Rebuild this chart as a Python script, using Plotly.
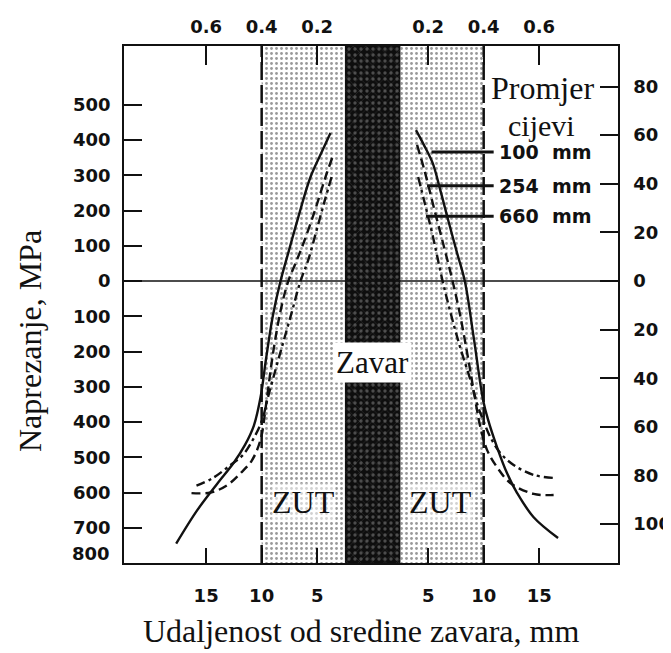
import plotly.graph_objects as go

# ---------------- data ----------------
x_tick_mm = [-15, -10, -5, 5, 10, 15]
x_bottom_labels = ["15", "10", "5", "5", "10", "15"]
x_top_labels = ["0.6", "0.4", "0.2", "0.2", "0.4", "0.6"]

mpa_ticks = [500, 400, 300, 200, 100, 0, -100, -200, -300, -400, -500, -600, -700]
mpa_labels = ["500", "400", "300", "200", "100", "0", "100", "200", "300", "400", "500", "600", "700"]
ksi_ticks = [80, 60, 40, 20, 0, -20, -40, -60, -80, -100]
ksi_labels = ["80", "60", "40", "20", "0", "20", "40", "60", "80", "100"]

weld_half_mm = 2.5
haz_edge_mm = 10

# 100 mm pipe (solid)
left_100_x = [-3.8, -4.6, -5.6, -6.8, -7.6, -8.3, -9.0, -9.6, -10.1, -10.7, -11.5, -12.5, -14.0, -15.8, -17.7]
left_100_y = [420, 365, 295, 170, 80, 0, -100, -220, -330, -410, -465, -515, -575, -650, -745]
right_100_x = [3.9, 4.6, 5.4, 6.1, 6.8, 7.6, 8.3, 9.1, 9.95, 10.4, 11.2, 12.1, 13.0, 14.5, 16.7]
right_100_y = [428, 387, 335, 257, 173, 80, 0, -160, -338, -394, -471, -545, -601, -670, -729]

# 254 mm pipe (dashed)
left_254_x = [-3.65, -4.3, -5.2, -6.2, -6.95, -7.6, -8.3, -9.0, -9.6, -10.1, -10.9, -11.9, -13.1, -14.6, -16.7]
left_254_y = [349, 290, 200, 110, 50, 0, -85, -210, -350, -450, -510, -545, -579, -600, -601]
right_254_x = [4.0, 4.7, 5.5, 6.4, 7.2, 7.9, 8.6, 9.4, 9.7, 10.3, 11.2, 12.4, 14.5, 16.3]
right_254_y = [386, 310, 210, 100, 0, -100, -220, -366, -414, -479, -528, -573, -604, -607]

# 660 mm pipe (dash-dot)
left_660_x = [-3.7, -4.3, -5.0, -5.8, -6.5, -7.3, -8.2, -9.0, -9.5, -9.95, -10.8, -11.7, -12.8, -14.4, -16.0]
left_660_y = [295, 230, 150, 60, 0, -90, -190, -280, -338, -394, -451, -494, -522, -559, -582]
right_660_x = [4.1, 4.7, 5.4, 6.3, 7.1, 7.9, 8.8, 9.5, 9.95, 10.6, 11.5, 12.7, 14.5, 16.4]
right_660_y = [295, 220, 130, 0, -100, -190, -280, -357, -394, -443, -488, -522, -550, -559]

legend_names = ["100  mm", "254  mm", "660  mm"]
legend_y = [366, 270, 184]
legend_x0 = [5.3, 4.9, 4.8]

# ---------------- layout constants ----------------
X_RANGE = [-22.4, 22.1]
Y_RANGE = [-800, 666.7]
MPA_PER_KSI = 6.895
Y2_RANGE = [Y_RANGE[0] / MPA_PER_KSI, Y_RANGE[1] / MPA_PER_KSI]
INK = "#111111"
SERIF = "Liberation Serif"
SANS = "DejaVu Sans"

# plot area in page pixels (page body has an 8px margin)
PA_L, PA_R, PA_T, PA_B = 124, 618, 46, 563
PA_W, PA_H = PA_R - PA_L, PA_B - PA_T

def px(xp):
    return (xp - PA_L) / PA_W

def py(yp):
    return (PA_B - yp) / PA_H

fig = go.Figure()

def band(x0, x1, pattern, name):
    fig.add_trace(go.Scatter(
        x=[x0, x1, x1, x0, x0], y=[Y_RANGE[0], Y_RANGE[0], Y_RANGE[1], Y_RANGE[1], Y_RANGE[0]],
        fill="toself", mode="none", fillpattern=pattern, hoverinfo="skip", showlegend=False, name=name))

haz_pattern = dict(shape=".", fgcolor="#333333", bgcolor="#ffffff", size=5, solidity=0.25)
weld_pattern = dict(shape=".", fgcolor="#8a8a8a", bgcolor="#0e0e0e", size=6, solidity=0.25)
weld_pattern2 = dict(shape="x", fgcolor="rgba(120,120,120,0.5)", bgcolor="rgba(0,0,0,0)", size=9, solidity=0.15)
band(-haz_edge_mm, -weld_half_mm, haz_pattern, "ZUT L")
band(weld_half_mm, haz_edge_mm, haz_pattern, "ZUT R")
band(-weld_half_mm, weld_half_mm, weld_pattern, "Zavar")
band(-weld_half_mm, weld_half_mm, weld_pattern2, "Zavar2")

styles = [("solid", 2.4), ("9px,5px", 2.4), ("9px,4px,3px,4px", 2.4)]
curves = [
    (left_100_x, left_100_y, right_100_x, right_100_y),
    (left_254_x, left_254_y, right_254_x, right_254_y),
    (left_660_x, left_660_y, right_660_x, right_660_y),
]
for (lx, ly, rx, ry), (dash, w) in zip(curves, styles):
    for xs, ys in ((lx, ly), (rx, ry)):
        fig.add_trace(go.Scatter(x=xs, y=ys, mode="lines",
                                 line=dict(color=INK, width=w, dash=dash, shape="spline", smoothing=1.0),
                                 showlegend=False, hoverinfo="skip"))

for y0, x0 in zip(legend_y, legend_x0):
    fig.add_trace(go.Scatter(x=[x0, 10.9], y=[y0, y0], mode="lines", line=dict(color=INK, width=3),
                             showlegend=False, hoverinfo="skip"))

fig.add_trace(go.Scatter(x=[0], y=[0], xaxis="x2", yaxis="y2", mode="markers", marker=dict(opacity=0),
                         showlegend=False, hoverinfo="skip"))

shapes = []
for xv in (-haz_edge_mm, haz_edge_mm):
    shapes.append(dict(type="line", xref="x", yref="y", x0=xv, x1=xv, y0=Y_RANGE[0], y1=Y_RANGE[1],
                       line=dict(color=INK, width=2.5, dash="18px,5px"), layer="above"))
shapes.append(dict(type="line", xref="x", yref="y", x0=X_RANGE[0], x1=X_RANGE[1], y0=0, y1=0,
                   line=dict(color=INK, width=1.5), layer="above"))

tickfont = dict(family=SANS, size=18, color=INK, weight="bold")
common = dict(showgrid=False, zeroline=False, showline=True, linecolor=INK, linewidth=1.5,
              ticks="inside", tickcolor=INK, tickwidth=1.5, tickfont=tickfont, automargin=False)

annotations = [
    dict(text="Zavar", x=0, y=-230, xref="x", yref="y", showarrow=False, xanchor="center", yanchor="middle",
         font=dict(family=SERIF, size=31, color=INK), bgcolor="white", borderpad=2),
    dict(text="ZUT", x=-6.2, y=-627, xref="x", yref="y", showarrow=False, xanchor="center", yanchor="middle",
         font=dict(family=SERIF, size=32, color=INK), bgcolor="rgba(255,255,255,0.55)", borderpad=0),
    dict(text="ZUT", x=6.1, y=-627, xref="x", yref="y", showarrow=False, xanchor="center", yanchor="middle",
         font=dict(family=SERIF, size=32, color=INK), bgcolor="rgba(255,255,255,0.55)", borderpad=0),
    dict(text="Promjer", x=15.3, y=548, xref="x", yref="y", showarrow=False, xanchor="center", yanchor="middle",
         font=dict(family=SERIF, size=32, color=INK)),
    dict(text="cijevi", x=15.2, y=440, xref="x", yref="y", showarrow=False, xanchor="center", yanchor="middle",
         font=dict(family=SERIF, size=30, color=INK)),
    dict(text="800", x=px(112), y=py(553), xref="paper", yref="paper", xanchor="right", yanchor="middle",
         showarrow=False, font=tickfont),
    dict(text="Udaljenost od sredine zavara, mm", x=px(361), y=py(631), xanchor="center", yanchor="middle",
         xref="paper", yref="paper", showarrow=False, font=dict(family=SERIF, size=32, color=INK)),
    dict(text="Naprezanje, MPa", x=px(30), y=py(341), textangle=-90, xanchor="center", yanchor="middle",
         xref="paper", yref="paper", showarrow=False, font=dict(family=SERIF, size=32, color=INK)),
]
for name, yv in zip(legend_names, legend_y):
    annotations.append(dict(text=name, x=11.2, y=yv, xref="x", yref="y", xanchor="left", yanchor="middle",
                            showarrow=False, font=dict(family=SANS, size=19, color=INK, weight="bold")))

BODY = 8
FIG_W, FIG_H = 671 - BODY, 653 - BODY
fig.update_layout(
    width=FIG_W, height=FIG_H, autosize=False,
    margin=dict(l=PA_L - BODY, r=BODY + FIG_W - PA_R, t=PA_T - BODY, b=BODY + FIG_H - PA_B, autoexpand=False),
    paper_bgcolor="white", plot_bgcolor="white",
    showlegend=False,
    xaxis=dict(range=X_RANGE, tickvals=x_tick_mm, ticktext=x_bottom_labels, ticklen=15,
               ticklabelstandoff=16, **common),
    xaxis2=dict(range=X_RANGE, overlaying="x", side="top", tickvals=x_tick_mm, ticktext=x_top_labels,
                ticklen=19, ticklabelstandoff=4, **common),
    yaxis=dict(range=Y_RANGE, tickvals=mpa_ticks, ticktext=mpa_labels, ticklen=18,
               ticklabelstandoff=8, **common),
    yaxis2=dict(range=Y2_RANGE, overlaying="y", side="right", tickvals=ksi_ticks, ticktext=ksi_labels,
                ticklen=18, ticklabelstandoff=10, **common),
    shapes=shapes,
    annotations=annotations,
)

fig.write_html("out.html")
